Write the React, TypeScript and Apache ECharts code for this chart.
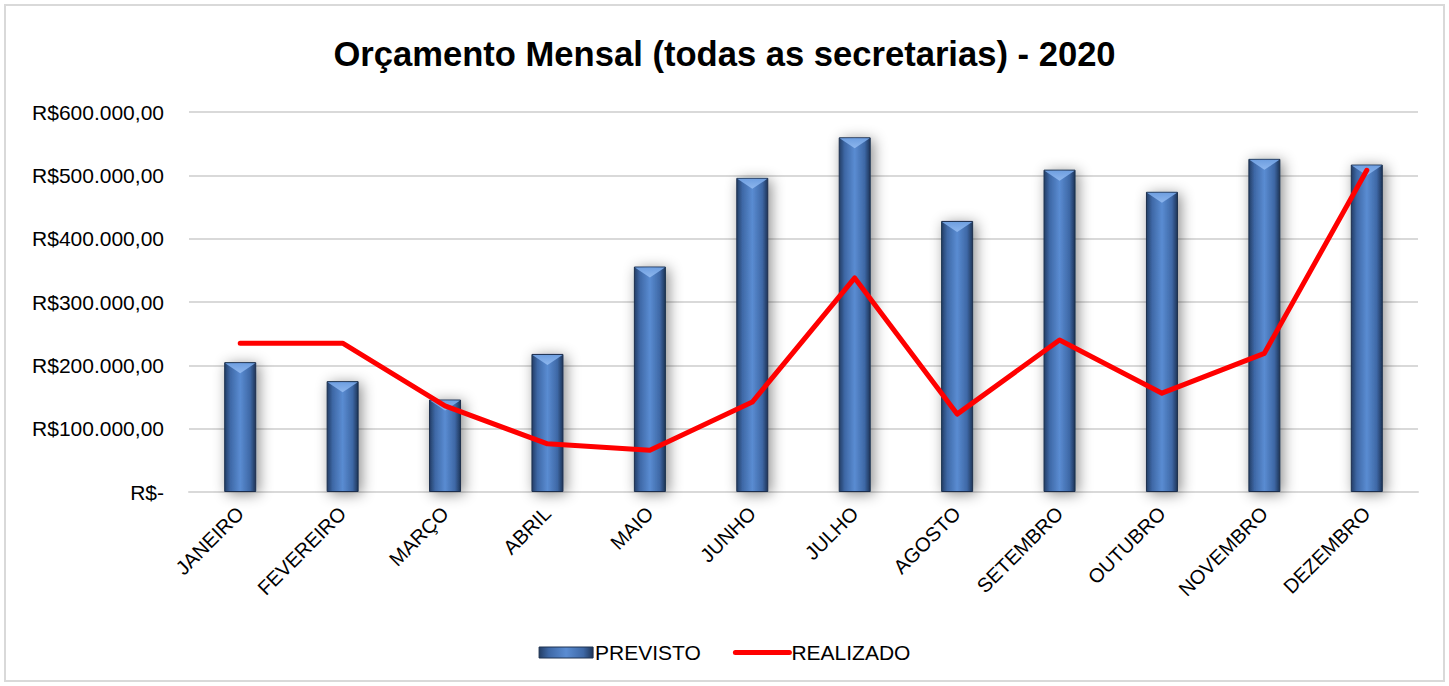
import React, { useEffect, useRef } from "react";
import * as echarts from "echarts";

const months = ["JANEIRO", "FEVEREIRO", "MARÇO", "ABRIL", "MAIO", "JUNHO", "JULHO", "AGOSTO", "SETEMBRO", "OUTUBRO", "NOVEMBRO", "DEZEMBRO"];
const previsto = [205000, 175000, 146000, 218000, 356000, 496000, 560000, 428000, 509000, 474000, 526000, 517000];
const realizado = [235000, 235000, 136000, 76000, 66000, 142000, 338000, 123000, 240000, 156000, 219000, 508000];
const yTicks = [0, 100000, 200000, 300000, 400000, 500000, 600000];

function fmt(v: number): string {
  if (v === 0) return "R$-";
  const s = Math.round(v).toString().replace(/\B(?=(\d{3})+(?!\d))/g, ".");
  return "R$" + s + ",00";
}

const barGradient = new echarts.graphic.LinearGradient(0, 0, 1, 0, [
  { offset: 0, color: "#233e66" },
  { offset: 0.18, color: "#3e68a6" },
  { offset: 0.5, color: "#5a8cd2" },
  { offset: 0.82, color: "#3e68a6" },
  { offset: 1, color: "#1e3558" },
]);

export default function App() {
  const ref = useRef<HTMLDivElement>(null);
  useEffect(() => {
    document.body.style.margin = "0";
    const chart = echarts.init(ref.current!, null, { renderer: "svg" });
    const barW = 32;
    chart.setOption({
      animation: false,
      backgroundColor: "#ffffff",
      textStyle: { fontFamily: "Liberation Sans, Arial, sans-serif" },
      graphic: [
        {
          type: "rect",
          shape: { x: 5, y: 5, width: 1439, height: 676 },
          style: { fill: "none", stroke: "#d9d9d9", lineWidth: 2 },
          silent: true,
        },
      ],
      title: {
        text: "Orçamento Mensal (todas as secretarias) - 2020",
        left: "center",
        top: 31,
        textStyle: { fontSize: 34.6, fontWeight: "bold", color: "#000", fontFamily: "Liberation Sans, Arial, sans-serif" },
      },
      legend: {
        bottom: 18,
        left: "center",
        itemGap: 32,
        itemWidth: 54,
        itemHeight: 11,
        textStyle: { fontSize: 21, color: "#000", padding: [0, 0, 0, -3] },
        data: [
          { name: "PREVISTO", icon: "rect", itemStyle: { color: barGradient, borderColor: "#1f3350", borderWidth: 1 } },
          { name: "REALIZADO", itemStyle: { opacity: 0 }, lineStyle: { width: 5, color: "#ff0000", cap: "round" } },
        ],
      },
      grid: { left: 189, right: 31, top: 112, bottom: 194 },
      xAxis: {
        type: "category",
        data: months,
        axisLine: { lineStyle: { color: "#d9d9d9", width: 2 } },
        axisTick: { show: false },
        axisLabel: { rotate: 45, fontSize: 20, color: "#000", margin: 18, interval: 0 },
      },
      yAxis: {
        type: "value",
        min: 0,
        max: 600000,
        interval: 100000,
        axisLine: { show: false },
        axisTick: { show: false },
        splitLine: { lineStyle: { color: "#d9d9d9", width: 2 } },
        axisLabel: {
          fontSize: 21,
          color: "#000",
          margin: 25,
          formatter: (v: number) => (yTicks.includes(v) ? fmt(v) : ""),
        },
      },
      series: [
        {
          name: "PREVISTO",
          type: "bar",
          data: previsto,
          barWidth: barW,
          itemStyle: {
            color: barGradient,
            borderColor: "#1b2f4d",
            borderWidth: 1,
            shadowColor: "rgba(0,0,0,0.45)",
            shadowBlur: 14,
            shadowOffsetX: 3,
            shadowOffsetY: 2,
          },
          z: 2,
        },
        {
          name: "bevel",
          type: "custom",
          data: previsto.map((v, i) => [i, v]),
          silent: true,
          z: 3,
          renderItem: (params: any, api: any) => {
            const p = api.coord([api.value(0), api.value(1)]);
            const x0 = p[0] - barW / 2 + 1;
            const x1 = p[0] + barW / 2 - 1;
            const y = p[1] + 1;
            return {
              type: "polygon",
              shape: { points: [[x0, y], [x1, y], [p[0], y + 10]] },
              style: {
                fill: new echarts.graphic.LinearGradient(0, 0, 0, 1, [
                  { offset: 0, color: "#6f9fe0" },
                  { offset: 1, color: "#8db6ee" },
                ]),
              },
            };
          },
        },
        {
          name: "REALIZADO",
          type: "line",
          data: realizado,
          symbol: "none",
          lineStyle: { color: "#ff0000", width: 5, cap: "round", join: "round" },
          itemStyle: { color: "#ff0000" },
          z: 5,
        },
      ],
    });
    return () => chart.dispose();
  }, []);
  return <div ref={ref} style={{ width: 1449, height: 686 }} />;
}
